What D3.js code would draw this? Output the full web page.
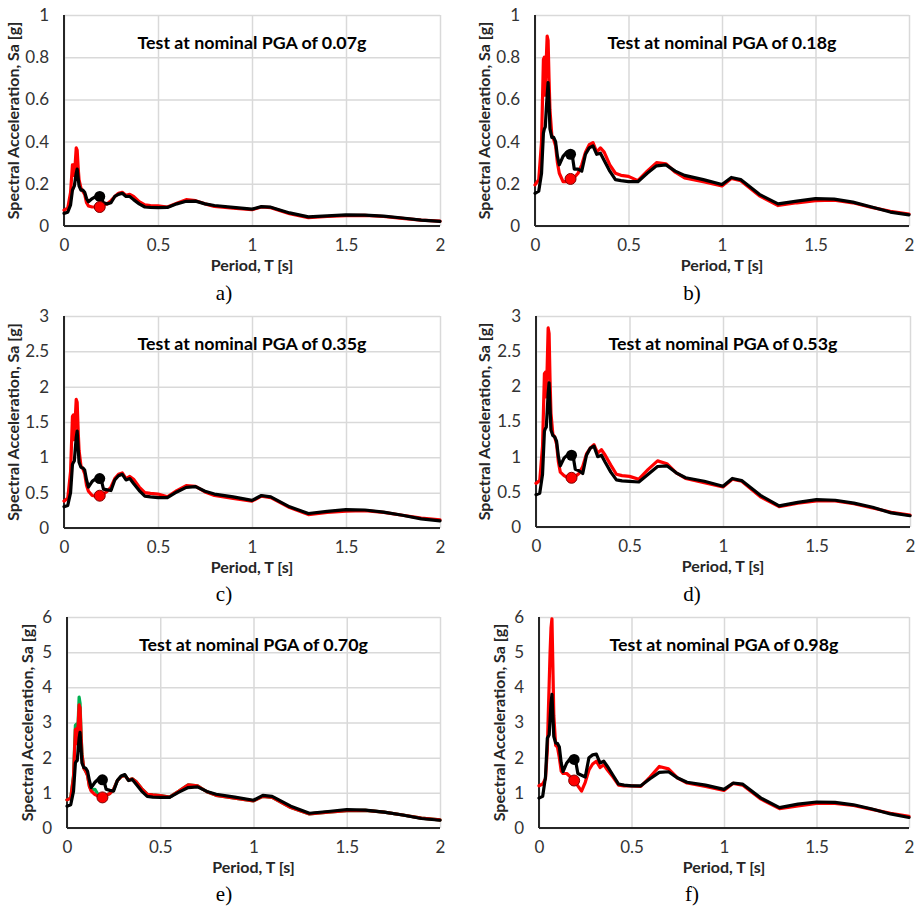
<!DOCTYPE html>
<html>
<head>
<meta charset="utf-8">
<script src="https://cdn.jsdelivr.net/npm/d3@7"></script>
<style>
    body { margin: 0; background: #fff; }
    svg { display: block; }
    .tick-label { font-family: Lato, "Liberation Sans", sans-serif; font-size: 17px; fill: #333; }
    .axis-label { font-family: Lato, "Liberation Sans", sans-serif; font-size: 16px; font-weight: bold; fill: #262626; }
    .panel-title { font-family: Lato, "Liberation Sans", sans-serif; font-size: 17.8px; font-weight: bold; fill: #000; }
    .caption { font-family: "Liberation Serif", "DejaVu Serif", serif; font-size: 21px; fill: #000; }
</style>
</head>
<body>
<svg id="chart-container" width="918" height="906"></svg>
<script>
// Periods [s] shared by all spectra
var periods = [0, 0.02, 0.035, 0.045, 0.05, 0.055, 0.06, 0.065, 0.07, 0.075, 0.08, 0.09, 0.10, 0.11, 0.12, 0.13,
    0.15, 0.17, 0.19, 0.20, 0.21, 0.23, 0.25, 0.27, 0.29, 0.31, 0.33, 0.35, 0.37, 0.40, 0.43, 0.46, 0.50,
    0.55, 0.60, 0.65, 0.70, 0.75, 0.80, 0.90, 1.00, 1.05, 1.10, 1.20, 1.30, 1.40, 1.50, 1.60, 1.70, 1.80, 1.90, 2.00];

// a) 0.07g
var blackA = [0.06, 0.065, 0.10, 0.17, 0.18, 0.19, 0.22, 0.25, 0.27, 0.23, 0.19, 0.17, 0.17, 0.16, 0.13, 0.115,
    0.13, 0.14, 0.14, 0.13, 0.11, 0.105, 0.11, 0.14, 0.15, 0.155, 0.14, 0.14, 0.125, 0.105, 0.09, 0.088, 0.087,
    0.088, 0.105, 0.117, 0.118, 0.105, 0.097, 0.088, 0.08, 0.092, 0.089, 0.062, 0.043, 0.048, 0.053, 0.052, 0.047, 0.038, 0.028, 0.022];
var redA = [0.075, 0.085, 0.16, 0.29, 0.29, 0.24, 0.30, 0.37, 0.36, 0.28, 0.22, 0.18, 0.165, 0.15, 0.11, 0.095,
    0.09, 0.09, 0.092, 0.095, 0.10, 0.105, 0.12, 0.14, 0.155, 0.16, 0.145, 0.15, 0.14, 0.115, 0.10, 0.097, 0.095,
    0.09, 0.108, 0.125, 0.12, 0.105, 0.093, 0.085, 0.077, 0.09, 0.087, 0.058, 0.04, 0.045, 0.049, 0.05, 0.045, 0.036, 0.028, 0.023];

// b) 0.18g
var blackB = [0.155, 0.165, 0.25, 0.44, 0.46, 0.47, 0.55, 0.62, 0.68, 0.58, 0.46, 0.42, 0.42, 0.40, 0.33, 0.29,
    0.33, 0.35, 0.34, 0.33, 0.27, 0.27, 0.26, 0.34, 0.37, 0.38, 0.34, 0.345, 0.31, 0.26, 0.22, 0.215, 0.21,
    0.21, 0.25, 0.285, 0.29, 0.26, 0.24, 0.22, 0.197, 0.23, 0.22, 0.15, 0.105, 0.118, 0.13, 0.127, 0.113, 0.09, 0.066, 0.053];
var redB = [0.195, 0.22, 0.40, 0.79, 0.80, 0.62, 0.78, 0.90, 0.88, 0.70, 0.55, 0.43, 0.41, 0.38, 0.30, 0.25,
    0.21, 0.21, 0.22, 0.225, 0.23, 0.25, 0.29, 0.35, 0.385, 0.395, 0.35, 0.37, 0.35, 0.29, 0.25, 0.24, 0.235,
    0.215, 0.26, 0.30, 0.295, 0.255, 0.228, 0.21, 0.19, 0.225, 0.215, 0.143, 0.097, 0.11, 0.12, 0.122, 0.11, 0.088, 0.07, 0.057];

// c) 0.35g
var blackC = [0.30, 0.32, 0.50, 0.90, 0.93, 0.95, 1.12, 1.28, 1.37, 1.15, 0.93, 0.86, 0.85, 0.82, 0.68, 0.58,
    0.66, 0.70, 0.69, 0.66, 0.55, 0.54, 0.53, 0.68, 0.74, 0.76, 0.68, 0.70, 0.63, 0.53, 0.45, 0.44, 0.43,
    0.43, 0.51, 0.575, 0.585, 0.52, 0.48, 0.44, 0.39, 0.46, 0.44, 0.30, 0.205, 0.235, 0.26, 0.255, 0.225, 0.18, 0.13, 0.10];
var redC = [0.38, 0.42, 0.80, 1.58, 1.60, 1.25, 1.55, 1.82, 1.78, 1.40, 1.10, 0.88, 0.84, 0.77, 0.60, 0.52,
    0.46, 0.45, 0.455, 0.46, 0.48, 0.52, 0.58, 0.70, 0.76, 0.78, 0.70, 0.73, 0.69, 0.58, 0.50, 0.49, 0.48,
    0.44, 0.53, 0.60, 0.59, 0.51, 0.46, 0.42, 0.38, 0.45, 0.43, 0.29, 0.19, 0.22, 0.24, 0.245, 0.22, 0.18, 0.14, 0.115];

// d) 0.53g
var blackD = [0.46, 0.48, 0.75, 1.36, 1.40, 1.42, 1.65, 1.90, 2.05, 1.70, 1.38, 1.30, 1.28, 1.22, 1.00, 0.87,
    0.98, 1.03, 1.02, 0.98, 0.82, 0.80, 0.76, 1.02, 1.12, 1.15, 1.00, 1.02, 0.92, 0.78, 0.67, 0.655, 0.65,
    0.64, 0.75, 0.86, 0.87, 0.77, 0.70, 0.65, 0.58, 0.69, 0.66, 0.45, 0.30, 0.35, 0.39, 0.38, 0.34, 0.28, 0.20, 0.16];
var redD = [0.62, 0.66, 1.15, 2.18, 2.20, 1.85, 2.30, 2.83, 2.75, 2.10, 1.62, 1.32, 1.28, 1.18, 0.92, 0.78,
    0.73, 0.70, 0.70, 0.71, 0.72, 0.76, 0.86, 1.04, 1.12, 1.17, 1.05, 1.10, 1.02, 0.88, 0.75, 0.73, 0.72,
    0.68, 0.82, 0.94, 0.90, 0.77, 0.69, 0.63, 0.57, 0.68, 0.65, 0.43, 0.29, 0.34, 0.37, 0.37, 0.33, 0.27, 0.21, 0.17];

// e) 0.70g
var blackE = [0.62, 0.66, 1.05, 1.85, 1.90, 1.92, 2.25, 2.55, 2.72, 2.30, 1.85, 1.72, 1.70, 1.62, 1.35, 1.15,
    1.30, 1.40, 1.38, 1.30, 1.10, 1.07, 1.05, 1.35, 1.48, 1.52, 1.35, 1.38, 1.25, 1.05, 0.90, 0.88, 0.87,
    0.87, 1.02, 1.15, 1.17, 1.04, 0.96, 0.88, 0.79, 0.93, 0.90, 0.62, 0.42, 0.47, 0.52, 0.51, 0.45, 0.37, 0.27, 0.22];
var redE = [0.80, 0.85, 1.45, 2.80, 2.82, 2.40, 2.95, 3.50, 3.42, 2.70, 2.10, 1.70, 1.62, 1.50, 1.18, 1.05,
    0.95, 0.90, 0.88, 0.90, 0.93, 0.98, 1.10, 1.35, 1.46, 1.50, 1.36, 1.40, 1.32, 1.12, 0.96, 0.94, 0.92,
    0.88, 1.05, 1.23, 1.20, 1.03, 0.93, 0.85, 0.77, 0.90, 0.87, 0.58, 0.40, 0.45, 0.49, 0.50, 0.45, 0.37, 0.28, 0.23];
var greenE = [0.80, 0.85, 1.50, 2.92, 2.95, 2.45, 3.05, 3.72, 3.55, 2.75, 2.12, 1.70, 1.62, 1.50, 1.20, 1.08,
    1.10, 0.92, 0.88, 0.90, 0.93, 0.98, 1.10, 1.35, 1.46, 1.50, 1.36, 1.40, 1.32, 1.12, 0.96, 0.94, 0.92,
    0.88, 1.05, 1.23, 1.20, 1.03, 0.93, 0.85, 0.77, 0.90, 0.87, 0.58, 0.40, 0.45, 0.49, 0.50, 0.45, 0.37, 0.28, 0.23];

// f) 0.98g
var blackF = [0.85, 0.90, 1.45, 2.55, 2.60, 2.65, 3.10, 3.55, 3.80, 3.20, 2.60, 2.42, 2.40, 2.30, 1.85, 1.60,
    1.85, 1.98, 1.95, 1.85, 1.55, 1.50, 1.45, 2.00, 2.08, 2.10, 1.85, 1.90, 1.75, 1.50, 1.25, 1.22, 1.20,
    1.20, 1.40, 1.58, 1.60, 1.42, 1.30, 1.22, 1.10, 1.28, 1.25, 0.85, 0.58, 0.68, 0.74, 0.73, 0.66, 0.54, 0.40, 0.30];
var redF = [1.20, 1.25, 1.40, 2.20, 3.20, 4.10, 5.00, 5.70, 5.95, 4.60, 3.20, 2.35, 2.30, 2.00, 1.62, 1.55,
    1.55, 1.45, 1.35, 1.28, 1.20, 1.05, 1.30, 1.65, 1.82, 1.90, 1.72, 1.80, 1.65, 1.45, 1.22, 1.20, 1.20,
    1.18, 1.45, 1.75, 1.68, 1.42, 1.28, 1.18, 1.07, 1.27, 1.22, 0.82, 0.55, 0.63, 0.70, 0.70, 0.64, 0.53, 0.42, 0.33];

// Markers at T = 0.19 s: [black, red]
var markerT = 0.19;
var markerBlack = [0.14, 0.34, 0.70, 1.02, 1.37, 1.95];
var markerRed = [0.09, 0.223, 0.457, 0.70, 0.87, 1.35];

var titles = ["Test at nominal PGA of 0.07g", "Test at nominal PGA of 0.18g", "Test at nominal PGA of 0.35g",
    "Test at nominal PGA of 0.53g", "Test at nominal PGA of 0.70g", "Test at nominal PGA of 0.98g"];
var captions = ["a)", "b)", "c)", "d)", "e)", "f)"];
var yMax = [1, 1, 3, 3, 6, 6];
var yTicks = [[0, 0.2, 0.4, 0.6, 0.8, 1], [0, 0.2, 0.4, 0.6, 0.8, 1],
    [0, 0.5, 1, 1.5, 2, 2.5, 3], [0, 0.5, 1, 1.5, 2, 2.5, 3],
    [0, 1, 2, 3, 4, 5, 6], [0, 1, 2, 3, 4, 5, 6]];
var xTicks = [0, 0.5, 1, 1.5, 2];

var blackSeries = [blackA, blackB, blackC, blackD, blackE, blackF];
var redSeries = [redA, redB, redC, redD, redE, redF];
var greenSeries = [null, null, null, null, greenE, null];

// Layout of each panel (plot area box, y label x, caption x/y)
var boxes = [
    { left: 64, right: 440, top: 15, bottom: 226, labelX: 14, capX: 224, capY: 300 },
    { left: 535, right: 909, top: 15, bottom: 226, labelX: 485, capX: 692, capY: 300 },
    { left: 64, right: 440, top: 316, bottom: 528, labelX: 14, capX: 224, capY: 601 },
    { left: 536, right: 910, top: 316, bottom: 527, labelX: 485, capX: 692, capY: 601 },
    { left: 67, right: 440, top: 617, bottom: 828, labelX: 28, capX: 224, capY: 901 },
    { left: 539, right: 909, top: 617, bottom: 828, labelX: 500, capX: 692, capY: 901 }
];

var svg = d3.select("#chart-container");

boxes.forEach((box, i) => {
    var width = box.right - box.left,
        height = box.bottom - box.top;

    var x = d3.scaleLinear().domain([0, 2]).range([0, width]);
    var y = d3.scaleLinear().domain([0, yMax[i]]).range([height, 0]);

    var g = svg.append("g")
        .attr("transform", `translate(${box.left},${box.top})`);

    // Gridlines
    g.append("g")
        .call(d3.axisLeft(y).tickValues(yTicks[i]).tickSize(-width).tickFormat(""))
        .call(s => s.select(".domain").remove())
        .selectAll("line")
            .attr("stroke", "#d9d9d9")
            .attr("stroke-width", 1.5);

    g.append("g")
        .attr("transform", `translate(0,${height})`)
        .call(d3.axisBottom(x).tickValues(xTicks).tickSize(-height).tickFormat(""))
        .call(s => s.select(".domain").remove())
        .selectAll("line")
            .attr("stroke", "#d9d9d9")
            .attr("stroke-width", 1.5);

    // Tick labels
    var yAxis = g.append("g")
        .call(d3.axisLeft(y).tickValues(yTicks[i]).tickSize(0).tickPadding(15).tickFormat(d => d));
    yAxis.select(".domain").remove();
    yAxis.selectAll("text").attr("class", "tick-label").attr("font-size", null).attr("font-family", null);

    var xAxis = g.append("g")
        .attr("transform", `translate(0,${height})`)
        .call(d3.axisBottom(x).tickValues(xTicks).tickSize(0).tickPadding(13).tickFormat(d => d));
    xAxis.select(".domain").remove();
    xAxis.selectAll("text").attr("class", "tick-label").attr("font-size", null).attr("font-family", null);

    // Axis lines
    g.append("line")
        .attr("x1", 0).attr("x2", 0).attr("y1", 0).attr("y2", height)
        .attr("stroke", "#262626").attr("stroke-width", 2);
    g.append("line")
        .attr("x1", 0).attr("x2", width).attr("y1", height).attr("y2", height)
        .attr("stroke", "#262626").attr("stroke-width", 2);

    // Spectra
    var line = d3.line()
        .x((d, k) => x(periods[k]))
        .y(d => y(d));

    var series = [];
    if (greenSeries[i]) series.push({ values: greenSeries[i], color: "#00b050" });
    series.push({ values: redSeries[i], color: "#ff0000" });
    series.push({ values: blackSeries[i], color: "#000000" });

    g.append("g")
        .attr("fill", "none")
        .attr("stroke-linejoin", "round")
        .attr("stroke-linecap", "round")
        .selectAll("path")
        .data(series)
        .join("path")
            .attr("stroke", d => d.color)
            .attr("stroke-width", 3.2)
            .attr("d", d => line(d.values));

    // Markers
    g.append("circle")
        .attr("cx", x(markerT))
        .attr("cy", y(markerBlack[i]))
        .attr("r", 5.5)
        .attr("fill", "#000");
    g.append("circle")
        .attr("cx", x(markerT))
        .attr("cy", y(markerRed[i]))
        .attr("r", 5.5)
        .attr("fill", "#ff0000")
        .attr("stroke", "#7f0000")
        .attr("stroke-width", 1);

    // Title
    g.append("text")
        .attr("class", "panel-title")
        .attr("x", width / 2)
        .attr("y", 34)
        .attr("text-anchor", "middle")
        .text(titles[i]);

    // Axis labels
    svg.append("text")
        .attr("class", "axis-label")
        .attr("x", box.left + width / 2)
        .attr("y", box.bottom + 45)
        .attr("text-anchor", "middle")
        .text("Period, T [s]");

    svg.append("text")
        .attr("class", "axis-label")
        .attr("transform", `translate(${box.labelX + 5},${box.top + height / 2}) rotate(-90)`)
        .attr("text-anchor", "middle")
        .text("Spectral Acceleration, Sa [g]");

    // Caption
    svg.append("text")
        .attr("class", "caption")
        .attr("x", box.capX)
        .attr("y", box.capY)
        .attr("text-anchor", "middle")
        .text(captions[i]);
});
</script>
</body>
</html>
